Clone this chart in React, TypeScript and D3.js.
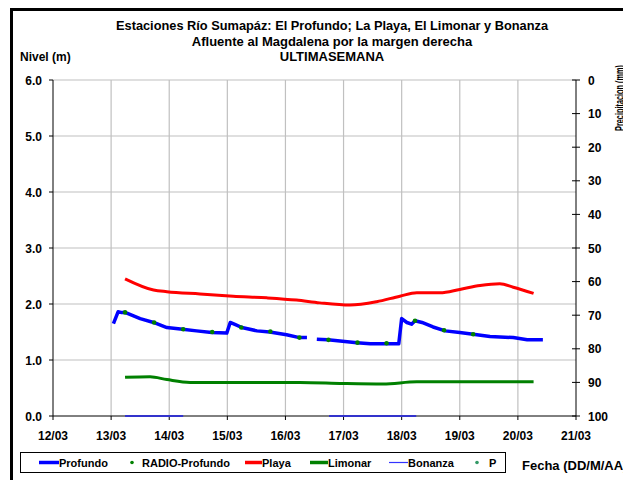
import React from 'react';
import * as d3 from 'd3';

// ---------- data ----------
const tickDays = [12, 13, 14, 15, 16, 17, 18, 19, 20, 21];
const tickLabels = ['12/03', '13/03', '14/03', '15/03', '16/03', '17/03', '18/03', '19/03', '20/03', '21/03'];
const levelTicks = [0, 1, 2, 3, 4, 5, 6];
const precipTicks = [0, 10, 20, 30, 40, 50, 60, 70, 80, 90, 100];

// Profundo (null = gap in record)
const profundoDays = [13.04, 13.12, 13.17, 13.24, 13.5, 13.73, 13.96, 14.23, 14.47, 14.73, 14.99, 15.05, 15.1, 15.25, 15.51, 15.73, 16.02, 16.24, 16.37, 16.45, 16.54, 16.73, 17.23, 17.46, 17.74, 17.95, 18.0, 18.09, 18.17, 18.23, 18.35, 18.54, 18.75, 19.0, 19.23, 19.52, 19.92, 20.16, 20.43];
const profundoLevels: (number | null)[] = [1.65, 1.86, 1.85, 1.85, 1.74, 1.67, 1.58, 1.55, 1.52, 1.49, 1.48, 1.67, 1.65, 1.58, 1.52, 1.5, 1.45, 1.4, 1.4, null, 1.37, 1.36, 1.31, 1.29, 1.29, 1.29, 1.74, 1.67, 1.64, 1.7, 1.67, 1.59, 1.52, 1.49, 1.46, 1.42, 1.4, 1.36, 1.36];

const radioDays = [13.24, 13.74, 14.24, 14.74, 15.24, 15.74, 16.24, 16.74, 17.24, 17.74, 18.23, 18.73, 19.23];
const radioLevels = [1.85, 1.67, 1.55, 1.5, 1.58, 1.51, 1.4, 1.36, 1.31, 1.3, 1.7, 1.53, 1.46];

const playaDays = [13.24, 13.73, 13.96, 14.53, 15.1, 15.68, 16.19, 16.59, 17.11, 17.57, 17.97, 18.26, 18.66, 19.0, 19.35, 19.69, 19.92, 20.27];
const playaLevels = [2.45, 2.25, 2.22, 2.18, 2.14, 2.11, 2.07, 2.02, 1.98, 2.04, 2.14, 2.2, 2.2, 2.26, 2.33, 2.36, 2.3, 2.19];

const limonarDays = [13.24, 13.67, 13.96, 14.36, 15.1, 16.25, 16.99, 17.68, 18.26, 19.18, 20.27];
const limonarLevels = [0.69, 0.7, 0.65, 0.6, 0.6, 0.6, 0.58, 0.57, 0.61, 0.61, 0.61];

const bonanzaDays = [13.24, 14.24, 15.0, 16.75, 18.25];
const bonanzaLevels: (number | null)[] = [0, 0, null, 0, 0];

const precipDays: number[] = [];
const precipValues: number[] = [];

const titleLines = [
  'Estaciones Río Sumapáz: El Profundo; La Playa, El Limonar y Bonanza',
  'Afluente al Magdalena por la margen derecha',
  'ULTIMASEMANA',
];
const legendLabels = ['Profundo', 'RADIO-Profundo', 'Playa', 'Limonar', 'Bonanza', 'P'];

// ---------- layout ----------
const W = 623, H = 480;
const L = 53, R = 576, T = 80, B = 416;
const FONT = '"Liberation Sans", Arial, sans-serif';

type Pt = [number, number | null];
const zip = (a: number[], b: (number | null)[]): Pt[] => a.map((d, i) => [d, b[i]]);

export default function App() {
  const x = d3.scaleLinear().domain([12, 21]).range([L, R]);
  const y = d3.scaleLinear().domain([0, 6]).range([B, T]);
  const yp = d3.scaleLinear().domain([0, 100]).range([T, B]);

  const lineSmooth = d3.line<Pt>().defined(d => d[1] !== null).x(d => x(d[0])).y(d => y(d[1] as number)).curve(d3.curveMonotoneX);
  const lineStraight = d3.line<Pt>().defined(d => d[1] !== null).x(d => x(d[0])).y(d => y(d[1] as number));

  const legendItems = [
    { type: 'line', x1: 39, x2: 59, color: '#0000ff', w: 3.5, tx: 59 },
    { type: 'dot', cx: 132, color: '#008000', tx: 142 },
    { type: 'line', x1: 245, x2: 262, color: '#ff0000', w: 3.5, tx: 262 },
    { type: 'line', x1: 310, x2: 328, color: '#008000', w: 3.5, tx: 328 },
    { type: 'line', x1: 389, x2: 408, color: '#3333ff', w: 1.2, tx: 408 },
    { type: 'dot', cx: 477, color: '#339966', tx: 489 },
  ];
  const ly = 462.5;

  return (
    <svg width={W} height={H} style={{ position: 'absolute', left: 0, top: 0, background: '#fff' }} fontFamily={FONT}>
      <rect x={0} y={0} width={W} height={H} fill="#fff" />
      <rect x={11.5} y={9.5} width={800} height={700} fill="none" stroke="#000" strokeWidth={3} />

      {/* titles */}
      <text x={332} y={30} textAnchor="middle" fontSize={13} fontWeight="bold" textLength={432} lengthAdjust="spacingAndGlyphs">{titleLines[0]}</text>
      <text x={332} y={46} textAnchor="middle" fontSize={13} fontWeight="bold">{titleLines[1]}</text>
      <text x={332} y={61} textAnchor="middle" fontSize={13} fontWeight="bold">{titleLines[2]}</text>
      <text x={20} y={61} fontSize={12} fontWeight="bold">Nivel (m)</text>

      {/* gridlines */}
      {levelTicks.filter(v => v > 0).map(v => (
        <line key={'h' + v} x1={L} x2={R} y1={y(v)} y2={y(v)} stroke="#c0c0c0" strokeWidth={1.2} />
      ))}
      {tickDays.filter(d => d > 12 && d < 21).map(d => (
        <line key={'v' + d} x1={x(d)} x2={x(d)} y1={T} y2={B} stroke="#c0c0c0" strokeWidth={1.2} />
      ))}

      {/* axes */}
      <line x1={L} x2={L} y1={T} y2={B} stroke="#000" />
      <line x1={R} x2={R} y1={T} y2={B} stroke="#000" />
      <line x1={L} x2={R} y1={B} y2={B} stroke="#000" />
      {levelTicks.map(v => (
        <g key={'ly' + v}>
          <line x1={L - 4} x2={L} y1={y(v)} y2={y(v)} stroke="#000" />
          <text x={42} y={y(v) + 4.5} textAnchor="end" fontSize={12} fontWeight="bold">{d3.format('.1f')(v)}</text>
        </g>
      ))}
      {precipTicks.map(v => (
        <g key={'ry' + v}>
          <line x1={R - 4} x2={R + 4} y1={yp(v)} y2={yp(v)} stroke="#000" />
          <text x={588} y={yp(v) + 4.5} fontSize={12} fontWeight="bold">{v}</text>
        </g>
      ))}
      {tickDays.map((d, i) => (
        <g key={'xt' + d}>
          <line x1={x(d)} x2={x(d)} y1={B} y2={B + 4} stroke="#000" />
          <text x={x(d)} y={440} textAnchor="middle" fontSize={12} fontWeight="bold">{tickLabels[i]}</text>
        </g>
      ))}
      <text transform="translate(624,131) rotate(-90)" fontSize={12} fontWeight="bold" textLength={66} lengthAdjust="spacingAndGlyphs">Precipitacion (mm)</text>

      {/* series */}
      <path d={lineSmooth(zip(limonarDays, limonarLevels)) || ''} fill="none" stroke="#008000" strokeWidth={3} />
      <path d={lineSmooth(zip(playaDays, playaLevels)) || ''} fill="none" stroke="#ff0000" strokeWidth={3} />
      <path d={lineStraight(zip(profundoDays, profundoLevels)) || ''} fill="none" stroke="#0000ff" strokeWidth={3.5} strokeLinejoin="round" />
      <path d={lineStraight(zip(bonanzaDays, bonanzaLevels)) || ''} fill="none" stroke="#3333cc" strokeWidth={2} />
      {radioDays.map((d, i) => (
        <circle key={'r' + i} cx={x(d)} cy={y(radioLevels[i])} r={2.3} fill="#008000" />
      ))}
      {precipDays.map((d, i) => (
        <circle key={'p' + i} cx={x(d)} cy={yp(precipValues[i])} r={2} fill="#339966" />
      ))}

      {/* legend */}
      <rect x={20.5} y={452.5} width={485} height={20} fill="#fff" stroke="#000" strokeWidth={1} />
      {legendItems.map((it, i) => (
        <g key={'lg' + i}>
          {it.type === 'line'
            ? <line x1={it.x1} x2={it.x2} y1={ly} y2={ly} stroke={it.color} strokeWidth={it.w} />
            : <circle cx={it.cx} cy={ly} r={1.8} fill={it.color} />}
          <text x={it.tx} y={ly + 4} fontSize={11} fontWeight="bold">{legendLabels[i]}</text>
        </g>
      ))}
      <text x={522} y={470} fontSize={13} fontWeight="bold">Fecha (DD/M/AA)</text>
    </svg>
  );
}
